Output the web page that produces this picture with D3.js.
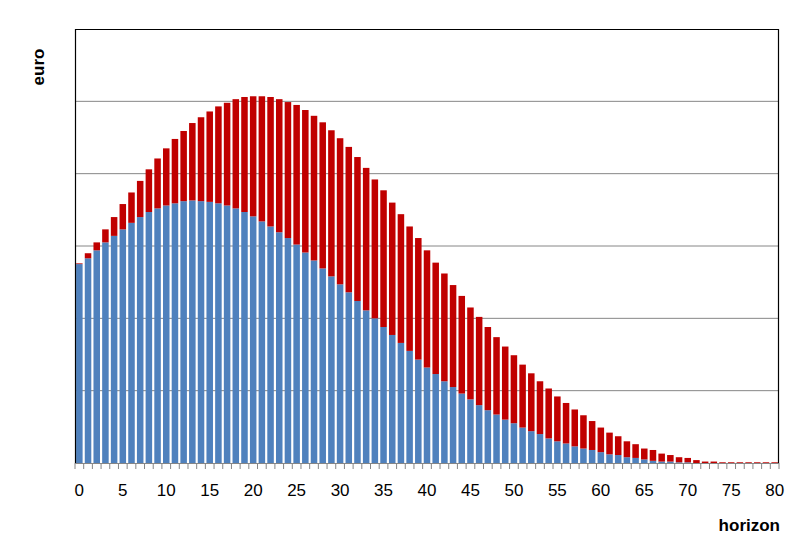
<!DOCTYPE html>
<html><head><meta charset="utf-8">
<script src="https://cdn.jsdelivr.net/npm/d3@7"></script>
<style>body{margin:0;background:#fff}svg{display:block}</style>
</head><body>
<svg id="c" width="812" height="557"></svg>
<script>
const horizons = d3.range(0, 81);
const xTickLabels = [0,5,10,15,20,25,30,35,40,45,50,55,60,65,70,75,80];
const blueValues = [2.75,2.83,2.94,3.05,3.14,3.23,3.32,3.40,3.47,3.52,3.56,3.59,3.62,3.63,3.62,3.61,3.59,3.56,3.52,3.47,
3.41,3.34,3.27,3.19,3.11,3.02,2.91,2.80,2.69,2.58,2.47,2.36,2.24,2.11,2.00,1.88,1.77,1.66,1.55,1.43,
1.32,1.23,1.13,1.05,0.96,0.88,0.80,0.73,0.67,0.60,0.55,0.49,0.44,0.40,0.34,0.30,0.27,0.23,0.20,0.18,
0.15,0.12,0.11,0.08,0.07,0.05,0.03,0.02,0.02,0.01,0.01,0,0,0,0,0,0,0,0,0,0];
const redValues = [0.01,0.07,0.11,0.18,0.26,0.35,0.42,0.50,0.59,0.69,0.79,0.89,0.97,1.07,1.16,1.25,1.34,1.42,1.51,1.59,
1.66,1.73,1.79,1.84,1.88,1.93,1.97,2.00,2.02,2.02,2.02,2.01,1.99,1.97,1.92,1.89,1.83,1.78,1.72,1.68,
1.62,1.54,1.49,1.41,1.35,1.27,1.22,1.15,1.07,1.01,0.94,0.87,0.80,0.73,0.69,0.62,0.56,0.51,0.46,0.40,
0.34,0.30,0.26,0.22,0.19,0.15,0.15,0.11,0.09,0.07,0.06,0.04,0.02,0.02,0.01,0.01,0.01,0.01,0.01,0.01,0.01];
const yGrid = [1,2,3,4,5];

const svg = d3.select("#c");
const L = 75, R = 779, T = 29, B = 463;
const x = d3.scaleBand().domain(horizons).range([L, R]).paddingInner(0.25).paddingOuter(0.125);
const xb = d3.scaleLinear().domain([0, 81]).range([L, R]);
const y = d3.scaleLinear().domain([0, 6]).range([B, T]);

// gridlines
svg.append("g").selectAll("line").data(yGrid).join("line")
  .attr("x1", L).attr("x2", R).attr("y1", d => y(d)).attr("y2", d => y(d))
  .attr("stroke", "#868686").attr("stroke-width", 1);

const rows = horizons.map((h, i) => ({h, blue: blueValues[i], red: redValues[i]}));
const stack = d3.stack().keys(["blue", "red"])(rows);
const colors = {blue: "#4F81BD", red: "#C00000"};
svg.append("g").selectAll("g").data(stack).join("g")
  .attr("fill", d => colors[d.key])
  .selectAll("rect").data(d => d).join("rect")
  .attr("x", d => x(d.data.h)).attr("width", x.bandwidth())
  .attr("y", d => y(d[1])).attr("height", d => Math.max(0, y(d[0]) - y(d[1])));

// x axis ticks
svg.append("g").selectAll("line").data(d3.range(0, 82)).join("line")
  .attr("x1", d => xb(d)).attr("x2", d => xb(d)).attr("y1", B).attr("y2", B + 6)
  .attr("stroke", "#868686").attr("stroke-width", 1);
svg.append("line").attr("x1", L).attr("x2", R).attr("y1", B + 0.5).attr("y2", B + 0.5)
  .attr("stroke", "#868686");

// frame
svg.append("path").attr("d", `M${L + 0.5},${B}V${T + 0.5}H${R - 0.5}V${B}`)
  .attr("fill", "none").attr("stroke", "#000").attr("stroke-width", 1.2);

// tick labels
svg.append("g").selectAll("text").data(xTickLabels).join("text")
  .attr("x", d => x(d) + x.bandwidth() / 2).attr("y", 496)
  .attr("text-anchor", "middle")
  .attr("font-family", "Liberation Sans, Arial, sans-serif").attr("font-size", 17)
  .attr("fill", "#000").text(d => d);

svg.append("text").attr("x", 780).attr("y", 531).attr("text-anchor", "end")
  .attr("font-family", "Liberation Sans, Arial, sans-serif").attr("font-size", 17)
  .attr("font-weight", "bold").text("horizon");

svg.append("text").attr("transform", "translate(44,67) rotate(-90)").attr("text-anchor", "middle")
  .attr("font-family", "Liberation Sans, Arial, sans-serif").attr("font-size", 17)
  .attr("font-weight", "bold").text("euro");
</script>
</body></html>
